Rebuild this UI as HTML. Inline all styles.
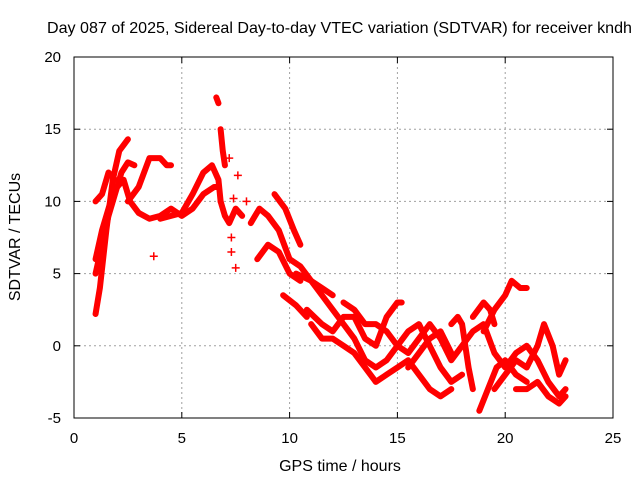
<!DOCTYPE html>
<html><head><meta charset="utf-8"><style>
body{margin:0;background:#fff}
svg{display:block;font-family:"Liberation Sans",sans-serif}
</style></head><body>
<svg id="chart" width="640" height="480" viewBox="0 0 640 480">
<rect width="640" height="480" fill="#fff"/>
<text x="47" y="33" font-size="16" textLength="585" lengthAdjust="spacingAndGlyphs">Day 087 of 2025, Sidereal Day-to-day VTEC variation (SDTVAR) for receiver kndh</text>
<g id="grid"></g>
<g id="marks"></g>
<rect x="74" y="57" width="539" height="361" fill="none" stroke="#000" stroke-width="1"/>
<g id="ticks"></g>
<text x="340" y="471" font-size="16" text-anchor="middle">GPS time / hours</text>
<text x="0" y="0" font-size="16" text-anchor="middle" transform="translate(20,237) rotate(-90)">SDTVAR / TECUs</text>
</svg>
<script>
const xTicks=[0,5,10,15,20,25];
const yTicks=[-5,0,5,10,15,20];
const trackA=[[1.0,2.2],[1.2,4],[1.5,8],[1.8,11.5],[2.1,13.5],[2.5,14.3]];
const trackB=[[1.0,5],[1.3,7],[1.6,9],[1.9,10.5],[2.2,12],[2.5,12.7],[2.8,12.5]];
const trackC=[[1.0,10],[1.3,10.5],[1.6,12],[1.9,11.5]];
const trackD=[[1.0,6],[1.3,8],[1.7,10],[2.0,11],[2.3,11.5],[2.6,10],[3.0,9.2],[3.5,8.8],[4.0,9],[4.5,9.5],[5.0,9],[5.5,9.5],[6.0,10.5],[6.5,11],[6.7,11]];
const trackE=[[2.5,10],[3.0,11],[3.5,13],[4.0,13],[4.3,12.5],[4.5,12.5]];
const trackF=[[4.0,8.8],[4.5,9],[5.0,9.2],[5.5,10.5],[6.0,12],[6.4,12.5],[6.7,11.5],[6.8,10]];
const trackG=[[6.6,17.2],[6.7,16.8]];
const trackH=[[6.8,15],[6.9,13.5],[7.0,12.5]];
const trackI=[[6.8,10],[7.0,9],[7.2,8.5],[7.5,9.5],[7.8,9]];
const trackJ=[[8.2,8.5],[8.6,9.5],[9.0,9],[9.5,8],[10,6],[10.5,5.5],[11,4.5],[11.5,4],[12,3.5]];
const trackK=[[9.3,10.5],[9.8,9.5],[10.2,8],[10.5,7]];
const trackL=[[8.5,6],[9,7],[9.5,6.5],[10,5],[10.5,4.5]];
const trackM=[[9.7,3.5],[10.3,2.8],[10.8,2]];
const trackN=[[10.3,5],[11,4.5],[11.5,3.5],[12,2.5],[12.5,1.5],[13,0.5],[13.5,-1],[14,-1.5],[14.5,-1],[15,0],[15.5,1],[16,1.5],[16.5,0],[17,-1.5],[17.5,-2.5],[18,-2]];
const trackO=[[10.8,2.5],[11.5,1.5],[12,1],[12.5,2],[13,2],[13.5,0.5],[14,0],[14.5,2],[15,3],[15.2,3]];
const trackP=[[11,1.5],[11.5,0.5],[12,0.5],[12.5,0],[13,-0.5],[13.5,-1.5],[14,-2.5],[14.5,-2],[15,-1.5],[15.5,-1],[16,-2],[16.5,-3],[17,-3.5],[17.5,-3]];
const trackQ=[[12.5,3],[13,2.5],[13.5,1.5],[14,1.5],[14.5,1],[15,0],[15.5,-0.5],[16,0.5],[16.5,1.5],[17,0.5],[17.5,-1],[18,0],[18.5,1],[19,1.5],[19.5,-0.5],[20,-1.5],[20.5,-0.5],[21,0],[21.5,-1],[22,-2.5],[22.5,-3.5],[22.8,-3]];
const trackR=[[15.5,-1.5],[16,-0.5],[16.5,0.5],[17,1],[17.5,-0.5]];
const trackS=[[17.5,1.5],[17.8,2],[18,1.5],[18.3,-1.5],[18.5,-3]];
const trackT=[[18.8,-4.5],[19.2,-3],[19.6,-1.5],[20,-1],[20.5,-2],[21,-2.5]];
const trackU=[[19,1],[19.5,2.5],[20,3.5],[20.3,4.5],[20.7,4],[21,4]];
const trackV=[[18.5,2],[19,3],[19.3,2.5],[19.5,1.5]];
const trackW=[[19.5,-3],[20,-2],[20.5,-1],[21,-1.5],[21.5,0],[21.8,1.5],[22.2,0],[22.5,-2],[22.8,-1]];
const trackX=[[20.5,-3],[21,-3],[21.5,-2.5],[22,-3.5],[22.5,-4],[22.8,-3.5]];
const scatterPts=[[3.7,6.2],[7.2,13],[7.3,6.5],[7.5,5.4],[7.4,10.2],[7.3,7.5],[7.6,11.8],[8.0,10]];
const tracks=[trackA,trackB,trackC,trackD,trackE,trackF,trackG,trackH,trackI,trackJ,trackK,trackL,trackM,trackN,trackO,trackP,trackQ,trackR,trackS,trackT,trackU,trackV,trackW,trackX];
const NS='http://www.w3.org/2000/svg';
const X0=74,X1=613,Y0=418,Y1=57;
function sx(v){return X0+(v-0)/25*(X1-X0);}
function sy(v){return Y0-(v+5)/25*(Y0-Y1);}
function mk(t,a){const e=document.createElementNS(NS,t);for(const k in a)e.setAttribute(k,a[k]);return e;}
const grid=document.getElementById('grid'),ticks=document.getElementById('ticks'),marks=document.getElementById('marks');
xTicks.forEach(v=>{
  if(v>0&&v<25){const g=mk('line',{x1:sx(v),x2:sx(v),y1:Y1,y2:Y0,stroke:'#a0a0a0','stroke-dasharray':'2,3'});
  
  
  grid.appendChild(g);}
  ticks.appendChild(mk('line',{x1:sx(v),x2:sx(v),y1:Y0,y2:Y0-6,stroke:'#000'}));
  ticks.appendChild(mk('line',{x1:sx(v),x2:sx(v),y1:Y1,y2:Y1+6,stroke:'#000'}));
  const l=mk('text',{x:sx(v),y:443,'font-size':15,'text-anchor':'middle'});l.textContent=v;
  
  
  ticks.appendChild(l);
});
yTicks.forEach(v=>{
  if(v>-5&&v<20){const g=mk('line',{x1:X0,x2:X1,y1:sy(v),y2:sy(v),stroke:'#a0a0a0','stroke-dasharray':'2,3'});
  
  
  grid.appendChild(g);}
  ticks.appendChild(mk('line',{x1:X0,x2:X0+6,y1:sy(v),y2:sy(v),stroke:'#000'}));
  ticks.appendChild(mk('line',{x1:X1,x2:X1-6,y1:sy(v),y2:sy(v),stroke:'#000'}));
  const l=mk('text',{x:61,y:sy(v)+5,'font-size':15,'text-anchor':'end'});l.textContent=v;
  
  
  ticks.appendChild(l);
});
tracks.forEach(tr=>{
  const p=mk('polyline',{points:tr.map(d=>sx(d[0])+','+sy(d[1])).join(' '),fill:'none',stroke:'#ff0000','stroke-width':6,'stroke-linejoin':'round','stroke-linecap':'round'});
  
  
  marks.appendChild(p);
});
scatterPts.forEach(d=>{
  const x=sx(d[0]),y=sy(d[1]);
  const p=mk('path',{d:`M${x-4},${y}H${x+4}M${x},${y-4}V${y+4}`,stroke:'#ff0000','stroke-width':1.5});
  
  
  marks.appendChild(p);
});
</script>
</body></html>
